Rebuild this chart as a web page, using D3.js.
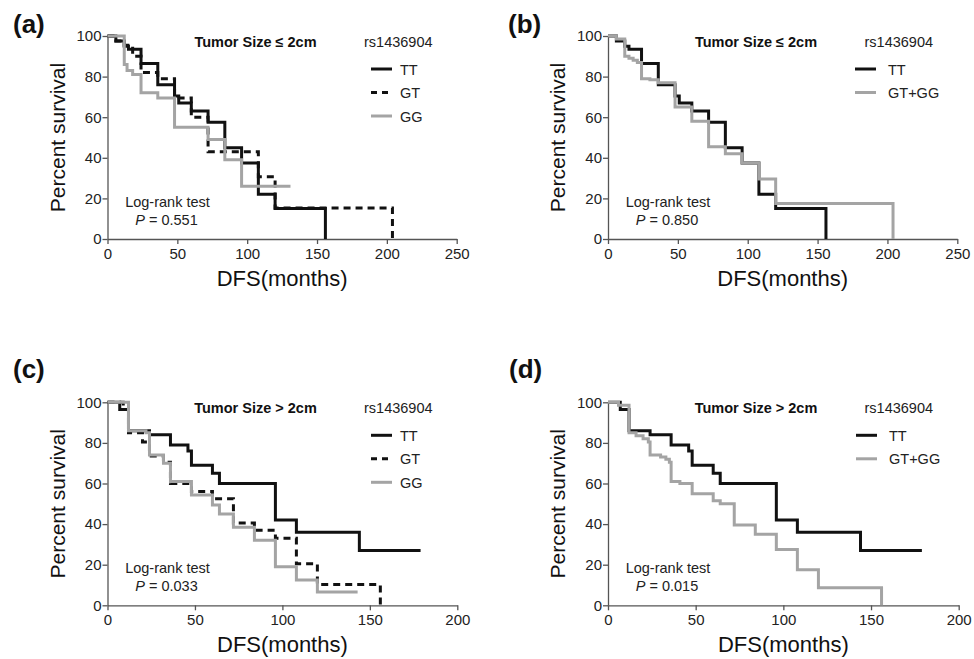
<!DOCTYPE html>
<html>
<head>
<meta charset="utf-8">
<script src="https://cdn.jsdelivr.net/npm/d3@7"></script>
<style>
  body { margin: 0; background: #fff; }
  svg { display: block; font-family: "Liberation Sans", Arial, sans-serif; }
</style>
</head>
<body>
<svg width="974" height="659"></svg>
<script>
// tick values
var xTicksSmall = [0, 50, 100, 150, 200, 250];
var xTicksLarge = [0, 50, 100, 150, 200];
var yTicks = [0, 20, 40, 60, 80, 100];

// Tumor size <= 2cm  (months / percent survival)
var smallTT_t = [0, 6, 12, 15, 24, 36, 48, 51, 60, 72, 84, 96, 108, 120, 156];
var smallTT_s = [100, 97.5, 95, 93.5, 86.5, 76, 70.5, 67, 63, 57.5, 45, 37.5, 22, 15, 0];
var smallGT_t = [0, 6, 12, 18, 24, 36, 48, 60, 72, 108, 120, 204];
var smallGT_s = [100, 97.5, 95.5, 90, 82, 79, 69.5, 60, 43, 30.7, 15.3, 0];
var smallGG_t = [0, 12, 14, 18, 24, 36, 48, 72, 84, 96, 131];
var smallGG_s = [100, 86, 83, 81, 72, 69.5, 55, 49, 39, 26, 26];
var smallGTGG_t = [0, 6, 12, 15, 18, 21, 24, 30, 36, 48, 60, 72, 84, 96, 108, 120, 204];
var smallGTGG_s = [100, 98.5, 90, 89, 88, 87, 79, 78.5, 77, 65, 58, 45.5, 42, 37.5, 29.5, 17.5, 0];

// Tumor size > 2cm
var largeTT_t = [0, 7, 12, 24, 36, 46, 48, 60, 64, 96, 108, 144, 179];
var largeTT_s = [100, 96.5, 86, 84, 79, 76, 69, 65, 60, 42, 36, 27, 27];
var largeGT_t = [0, 9, 12, 20, 24, 32, 36, 48, 60, 72, 84, 96, 108, 120, 156];
var largeGT_s = [100, 96.5, 85, 80.5, 73.5, 70.5, 60, 56, 52.5, 40.5, 37, 33, 20.5, 10.2, 0];
var largeGG_t = [0, 12, 22, 24, 32, 36, 48, 60, 64, 72, 84, 96, 108, 120, 143];
var largeGG_s = [100, 86, 85, 74, 70, 61, 54.3, 49.4, 45, 38.5, 32, 19, 12.5, 6.5, 6.5];
var largeGTGG_t = [0, 6, 12, 16, 20, 23, 24, 30, 33, 35, 36, 41, 48, 60, 64, 72, 84, 96, 108, 120, 156];
var largeGTGG_s = [100, 98.5, 85, 83.5, 82, 80.5, 74, 73, 72, 70.5, 61, 60, 55, 51.5, 50, 39.5, 35, 27.5, 17.5, 8.7, 0];

var pValues = ["0.551", "0.850", "0.033", "0.015"];

var black = "#111";
var grey = "#a4a4a4";

function pts(t, s) { return t.map((d, i) => [d, s[i]]); }

var panels = [
  { tag: "(a)", tagX: 13, tagY: 33, x0: 107.5, x1: 456.7, yTop: 36, yBot: 239, xMax: 250, xTicks: xTicksSmall,
    title: "Tumor Size \u2264 2cm", p: pValues[0], legX: 263.5, labX: 292.5,
    series: [
      { name: "TT", data: pts(smallTT_t, smallTT_s), color: black, dash: null },
      { name: "GT", data: pts(smallGT_t, smallGT_s), color: black, dash: "7,5" },
      { name: "GG", data: pts(smallGG_t, smallGG_s), color: grey, dash: null } ] },
  { tag: "(b)", tagX: 508, tagY: 33, x0: 608, x1: 957.3, yTop: 36, yBot: 239, xMax: 250, xTicks: xTicksSmall,
    title: "Tumor Size \u2264 2cm", p: pValues[1], legX: 247, labX: 280,
    series: [
      { name: "TT", data: pts(smallTT_t, smallTT_s), color: black, dash: null },
      { name: "GT+GG", data: pts(smallGTGG_t, smallGTGG_s), color: grey, dash: null } ] },
  { tag: "(c)", tagX: 13, tagY: 378, x0: 107.5, x1: 457.3, yTop: 402.3, yBot: 605.3, xMax: 200, xTicks: xTicksLarge,
    title: "Tumor Size > 2cm", p: pValues[2], legX: 263.5, labX: 292.5,
    series: [
      { name: "TT", data: pts(largeTT_t, largeTT_s), color: black, dash: null },
      { name: "GT", data: pts(largeGT_t, largeGT_s), color: black, dash: "7,5" },
      { name: "GG", data: pts(largeGG_t, largeGG_s), color: grey, dash: null } ] },
  { tag: "(d)", tagX: 509, tagY: 378, x0: 608, x1: 958.7, yTop: 402.3, yBot: 605.3, xMax: 200, xTicks: xTicksLarge,
    title: "Tumor Size > 2cm", p: pValues[3], legX: 248, labX: 281,
    series: [
      { name: "TT", data: pts(largeTT_t, largeTT_s), color: black, dash: null },
      { name: "GT+GG", data: pts(largeGTGG_t, largeGTGG_s), color: grey, dash: null } ] }
];

var svg = d3.select("svg");
svg.append("rect").attr("width", 974).attr("height", 659).attr("fill", "#fff");

panels.forEach(drawPanel);

function drawPanel(cfg) {
  var x = d3.scaleLinear().domain([0, cfg.xMax]).range([cfg.x0, cfg.x1]);
  var y = d3.scaleLinear().domain([0, 100]).range([cfg.yBot, cfg.yTop]);
  var g = svg.append("g");

  // panel letter
  g.append("text").attr("x", cfg.tagX).attr("y", cfg.tagY)
    .attr("font-size", 26).attr("font-weight", "bold").attr("fill", "#111").text(cfg.tag);

  // axes
  var xAxis = g.append("g").attr("transform", "translate(0," + cfg.yBot + ")")
    .call(d3.axisBottom(x).tickValues(cfg.xTicks).tickSize(5).tickPadding(4).tickSizeOuter(0));
  var yAxis = g.append("g").attr("transform", "translate(" + cfg.x0 + ",0)")
    .call(d3.axisLeft(y).tickValues(yTicks).tickSize(5).tickPadding(1).tickSizeOuter(0));
  [xAxis, yAxis].forEach(function(a) {
    a.select(".domain").attr("stroke", "#555").attr("stroke-width", 1.3);
    a.selectAll(".tick line").attr("stroke", "#555").attr("stroke-width", 1.3);
    a.selectAll(".tick text").attr("font-size", 15).attr("fill", "#222")
      .attr("font-family", "Liberation Sans, Arial, sans-serif");
  });

  // axis titles
  g.append("text").attr("x", (cfg.x0 + cfg.x1) / 2).attr("y", cfg.yBot + 47)
    .attr("text-anchor", "middle").attr("font-size", 22).attr("fill", "#111").text("DFS(months)");
  g.append("text")
    .attr("transform", "translate(" + (cfg.x0 - 43) + "," + ((cfg.yTop + cfg.yBot) / 2) + ") rotate(-90)")
    .attr("text-anchor", "middle").attr("font-size", 21).attr("fill", "#111").text("Percent survival");

  // curves, KM steps
  var line = d3.line().x(d => x(d[0])).y(d => y(d[1])).curve(d3.curveStepAfter);
  cfg.series.forEach(function(s) {
    g.append("path").attr("d", line(s.data)).attr("fill", "none")
      .attr("stroke", s.color).attr("stroke-width", 3)
      .attr("stroke-dasharray", s.dash);
  });

  // title + legend
  g.append("text").attr("x", cfg.x0 + 148).attr("y", cfg.yTop + 11).attr("text-anchor", "middle")
    .attr("font-size", 14.5).attr("font-weight", "bold").attr("fill", "#111").text(cfg.title);
  g.append("text").attr("x", cfg.x0 + 256.5).attr("y", cfg.yTop + 11)
    .attr("font-size", 14.5).attr("fill", "#222").text("rs1436904");

  var leg = g.selectAll(".leg").data(cfg.series).enter().append("g")
    .attr("transform", (d, i) => "translate(0," + (cfg.yTop + 33 + i * 23.5) + ")");
  leg.append("line").attr("x1", cfg.x0 + cfg.legX).attr("x2", cfg.x0 + cfg.legX + 21)
    .attr("stroke", d => d.color).attr("stroke-width", 3).attr("stroke-dasharray", d => d.dash ? "6,5" : null);
  leg.append("text").attr("x", cfg.x0 + cfg.labX).attr("y", 5.5)
    .attr("font-size", 14.5).attr("fill", "#222").text(d => d.name);

  // log-rank note
  g.append("text").attr("x", cfg.x0 + 60).attr("y", cfg.yTop + 171).attr("text-anchor", "middle")
    .attr("font-size", 14.5).attr("fill", "#222").text("Log-rank test");
  var pt = g.append("text").attr("x", cfg.x0 + 59).attr("y", cfg.yTop + 189).attr("text-anchor", "middle")
    .attr("font-size", 14.5).attr("fill", "#222");
  pt.append("tspan").attr("font-style", "italic").text("P");
  pt.append("tspan").text(" = " + cfg.p);
}
</script>
</body>
</html>
